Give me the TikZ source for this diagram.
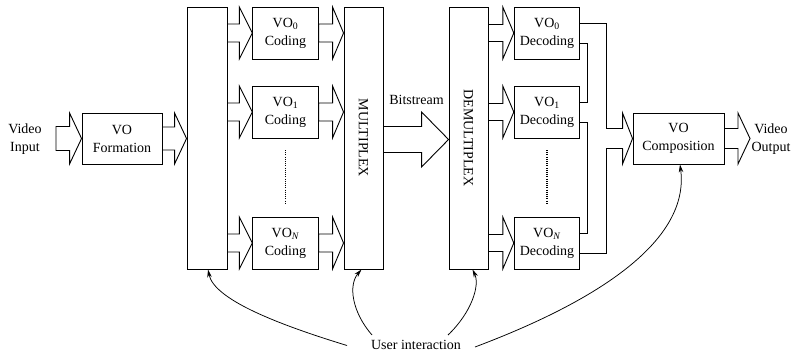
\documentclass[tikz,border=0pt]{standalone}
\usepackage{fontspec}
\setmainfont{Liberation Serif}
\usetikzlibrary{arrows.meta,calc}

% hollow block arrow from #1 (tail) to #2 (tip); #3 head length, #4 shaft half width, #5 head half width
\newcommand{\fatarrow}[5]{%
  \draw[line join=miter] let \p1=(#1), \p2=(#2) in
    (\x1,\y2+#4) -- (\x2-#3,\y2+#4) -- (\x2-#3,\y2+#5) -- (\x2,\y2)
    -- (\x2-#3,\y2-#5) -- (\x2-#3,\y2-#4) -- (\x1,\y2-#4) -- cycle;}

\begin{document}
\begin{tikzpicture}[x=1pt,y=-1pt,line width=0.9pt,
  txt/.style={font=\fontsize{14}{18}\selectfont,align=center,inner sep=0pt},
  blk/.style={draw,txt,minimum height=51pt},
  tall/.style={draw,minimum width=39pt,minimum height=262pt,inner sep=0pt},
  small/.style={blk,minimum width=65.5pt,minimum height=52pt},
  link/.style={-{Stealth[length=8pt,width=4.5pt]},line width=0.75pt},
  dotline/.style={line width=1.2pt,dash pattern=on 1pt off 1.2pt}]
\useasboundingbox (0,0) rectangle (798,356);

% source side
\node[txt] (vin) at (25,139) {Video\\Input};
\node[blk,minimum width=80pt] (form) at (122,138.5) {VO\\Formation};
\node[tall,minimum width=40pt] (split) at (207,138) {};
\node[small] (c0) at (285.5,33) {VO\textsubscript{0}\\Coding};
\node[small] (c1) at (285.5,112) {VO\textsubscript{1}\\Coding};
\node[small] (cN) at (285.5,243) {VO\textsubscript{\textit{N}}\\Coding};
\node[tall] (mux) at (363.5,138) {};
\node[txt,rotate=-90] at (mux) {MULTIPLEX};
\node[txt] (bits) at (416.5,100) {Bitstream};

% receiving side
\node[tall] (demux) at (468.5,138) {};
\node[txt,rotate=-90] at (demux) {DEMULTIPLEX};
\node[small] (d0) at (547,33) {VO\textsubscript{0}\\Decoding};
\node[small] (d1) at (547,112) {VO\textsubscript{1}\\Decoding};
\node[small] (dN) at (547,243) {VO\textsubscript{\textit{N}}\\Decoding};
\node[blk,minimum width=91pt] (comp) at (678.5,138.5) {VO\\Composition};
\node[txt] (vout) at (771,139) {Video\\Output};
\node[txt] (ui) at (416,345) {User interaction};

% anchor points for the block arrows
\coordinate (vtail) at (56,138.5);
\coordinate (vtip) at (750,138.5);
\coordinate (sf) at (split.west|-form.east);
\coordinate (s0) at (split.east|-c0.west);
\coordinate (s1) at (split.east|-c1.west);
\coordinate (sN) at (split.east|-cN.west);
\coordinate (m0) at (mux.west|-c0.east);
\coordinate (m1) at (mux.west|-c1.east);
\coordinate (mN) at (mux.west|-cN.east);
\coordinate (bs) at ([yshift=-1.5pt]mux.east);
\coordinate (bt) at ([yshift=-1.5pt]demux.west);
\coordinate (e0) at (demux.east|-d0.west);
\coordinate (e1) at (demux.east|-d1.west);
\coordinate (eN) at (demux.east|-dN.west);

% block arrows
\fatarrow{vtail}{form.west}{12pt}{12pt}{25.5pt}
\fatarrow{form.east}{sf}{12pt}{11.5pt}{25.5pt}
\fatarrow{s0}{c0.west}{13pt}{9pt}{26pt}
\fatarrow{s1}{c1.west}{13pt}{9pt}{26pt}
\fatarrow{sN}{cN.west}{13pt}{9pt}{26pt}
\fatarrow{c0.east}{m0}{11pt}{9pt}{26pt}
\fatarrow{c1.east}{m1}{11pt}{9pt}{26pt}
\fatarrow{cN.east}{mN}{11pt}{9pt}{26pt}
\fatarrow{bs}{bt}{27pt}{13pt}{27.5pt}
\fatarrow{e0}{d0.west}{11pt}{8.5pt}{26pt}
\fatarrow{e1}{d1.west}{11pt}{8.5pt}{26pt}
\fatarrow{eN}{dN.west}{11pt}{8.5pt}{26pt}
\fatarrow{comp.east}{vtip}{12pt}{10pt}{25.5pt}

% head of the composition input
\draw[line join=miter] let \p2=(comp.west) in
  (\x2-10pt,\y2+10pt) -- (\x2-10pt,\y2+25.5pt) -- (\x2,\y2)
  -- (\x2-10pt,\y2-25.5pt) -- (\x2-10pt,\y2-10pt);

% decoder output wiring
\coordinate (busL) at (587,0);
\coordinate (busR) at (606,0);
\coordinate (ci1) at ([xshift=-10pt,yshift=10pt]comp.west);
\coordinate (ci2) at ([xshift=-10pt,yshift=-10pt]comp.west);
\coordinate (d0a) at ([yshift=10pt]d0.east);
\coordinate (d0b) at ([yshift=-10pt]d0.east);
\coordinate (d1a) at ([yshift=10pt]d1.east);
\coordinate (d1b) at ([yshift=-10pt]d1.east);
\coordinate (dNa) at ([yshift=10pt]dN.east);
\coordinate (dNb) at ([yshift=-10pt]dN.east);
\draw (d0a) -| (ci1 -| busR) -- (ci1);
\draw (d0b) -| (d1a -| busL) -- (d1a);
\draw (d1b) -| (dNa -| busL) -- (dNa);
\draw (dNb) -| (ci2 -| busR) -- (ci2);

% ellipsis between the object branches
\draw[dotline] (285.5,150) -- (285.5,203);
\draw[dotline] (547,150) -- (547,203);

% user interaction
\coordinate (u1) at (347,345.5);
\coordinate (u2) at (372,335);
\coordinate (u3) at (448,335);
\coordinate (u4) at (475,347);
\draw[link] (u1) .. controls (280,325) and (214,300) .. ([xshift=1pt]split.south);
\draw[link] (u2) .. controls (352,312) and (348,285) .. ([xshift=-2pt]mux.south);
\draw[link] (u3) .. controls (472,312) and (480,285) .. ([xshift=4pt]demux.south);
\draw[link] (u4) .. controls (600,300) and (690,240) .. ([xshift=1.5pt]comp.south);
\end{tikzpicture}
\end{document}
